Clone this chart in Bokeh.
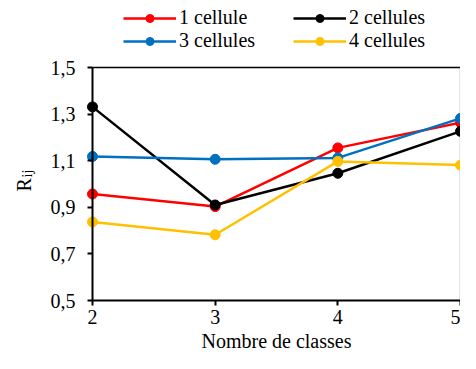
import math
from bokeh.plotting import figure
from bokeh.models import Legend, LegendItem, Label, FixedTicker, Range1d
from bokeh.embed import file_html
from bokeh.resources import INLINE

x_classes = [2, 3, 4, 5]
y_1cellule = [0.957, 0.903, 1.155, 1.263]
y_2cellules = [1.331, 0.910, 1.046, 1.226]
y_3cellules = [1.118, 1.106, 1.112, 1.282]
y_4cellules = [0.837, 0.782, 1.097, 1.081]
series_names = ["1 cellule", "2 cellules", "3 cellules", "4 cellules"]
series_colors = ["#FF0000", "#000000", "#0070C0", "#FFC000"]
y_ticks = [0.5, 0.7, 0.9, 1.1, 1.3, 1.5]
y_tick_labels = ["0,5", "0,7", "0,9", "1,1", "1,3", "1,5"]

FONT = "Liberation Serif"
FS = "20px"

# canvas layout (pixels): the plotting area occupies the whole canvas, axes are
# fixed at the data origin so that legend and labels can live around the chart
W, H = 460, 353
AX_LEFT, AX_RIGHT = 92, 460      # pixel of x = first / last class
AX_TOP, AX_BOTTOM = 67, 300      # pixel of y = top / bottom tick
x_lo, x_hi = x_classes[0], x_classes[-1]
y_lo, y_hi = y_ticks[0], y_ticks[-1]
sx = (AX_RIGHT - AX_LEFT) / (x_hi - x_lo)
sy = (AX_BOTTOM - AX_TOP) / (y_hi - y_lo)
x_range = Range1d(x_lo - AX_LEFT / sx, x_hi + (W - AX_RIGHT) / sx)
y_range = Range1d(y_lo - (H - AX_BOTTOM) / sy, y_hi + AX_TOP / sy)

p = figure(width=W, height=H, output_backend="svg", toolbar_location=None,
           x_range=x_range, y_range=y_range,
           min_border=0, min_border_left=0, min_border_right=0,
           min_border_top=0, min_border_bottom=0)
p.background_fill_color = "white"
p.border_fill_color = "white"
p.outline_line_color = None
p.xgrid.visible = False
p.ygrid.visible = False

# plot-area border (top and right)
p.segment(x0=[x_lo], y0=[y_hi], x1=[x_hi], y1=[y_hi], line_color="black", line_width=1.5)
p.segment(x0=[x_hi], y0=[y_lo], x1=[x_hi], y1=[y_hi], line_color="#999999", line_width=1.5)

renderers = []
for ys, c in zip([y_1cellule, y_2cellules, y_3cellules, y_4cellules], series_colors):
    lr = p.line(x_classes, ys, line_color=c, line_width=2.5)
    sr = p.scatter(x_classes, ys, size=10, fill_color=c, line_color=c)
    renderers.append((lr, sr))

for ax in (p.xaxis[0], p.yaxis[0]):
    ax.axis_line_width = 2
    ax.axis_line_color = "black"
    ax.major_tick_line_width = 2
    ax.major_tick_line_color = "black"
    ax.major_tick_in = 0
    ax.major_tick_out = 5
    ax.minor_tick_line_color = None
    ax.major_label_text_font = FONT
    ax.major_label_text_font_size = FS
    ax.major_label_text_color = "black"

p.xaxis.fixed_location = y_lo
p.xaxis.bounds = (x_lo, x_hi)
p.xaxis.ticker = FixedTicker(ticks=x_classes)
p.xaxis.major_label_standoff = 4
p.xaxis.axis_label = "Nombre de classes"
p.xaxis.axis_label_text_font = FONT
p.xaxis.axis_label_text_font_size = FS
p.xaxis.axis_label_text_font_style = "normal"
p.xaxis.axis_label_text_color = "black"
p.xaxis.axis_label_standoff = 3

p.yaxis.fixed_location = x_lo
p.yaxis.bounds = (y_lo, y_hi)
p.yaxis.ticker = FixedTicker(ticks=y_ticks)
p.yaxis.major_label_overrides = {t: l for t, l in zip(y_ticks, y_tick_labels)}
p.yaxis.major_label_standoff = 12

# y axis title R_ij
p.add_layout(Label(x=23, y=162, x_units="screen", y_units="screen", text="R",
                   angle=math.pi / 2, text_font=FONT, text_font_size=FS,
                   text_align="left", text_baseline="alphabetic", text_color="black"))
p.add_layout(Label(x=27, y=176, x_units="screen", y_units="screen", text="ij",
                   angle=math.pi / 2, text_font=FONT, text_font_size="14px",
                   text_align="left", text_baseline="alphabetic", text_color="black"))

def legend_col(idxs, xloc):
    items = [LegendItem(label=series_names[i], renderers=list(renderers[i])) for i in idxs]
    lg = Legend(items=items, location=(xloc, 301), orientation="vertical",
                padding=0, spacing=0, margin=0, glyph_width=53, glyph_height=20,
                label_height=20, label_standoff=3, label_text_font=FONT,
                label_text_font_size=FS, label_text_color="black",
                background_fill_alpha=0, border_line_color=None)
    p.add_layout(lg, "center")

legend_col([0, 2], 123)
legend_col([1, 3], 293)

open("out.html", "w").write(file_html(p, INLINE))
